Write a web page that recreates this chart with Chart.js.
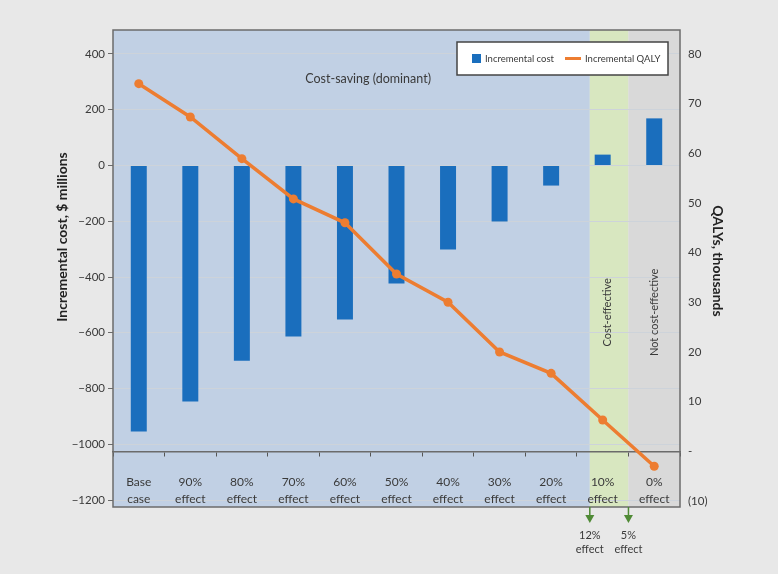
<!DOCTYPE html>
<html>
<head>
<meta charset="utf-8">
<script src="https://cdn.jsdelivr.net/npm/chart.js@4.4.0/dist/chart.umd.min.js"></script>
<style>
  html, body { margin: 0; padding: 0; background: #e8e8e8; }
  #wrap { width: 778px; height: 574px; }
</style>
</head>
<body>
<div id="wrap"><canvas id="myChart" width="778" height="574"></canvas></div>
<script>
var FONT = "Lato, 'Noto Sans', sans-serif";

// scenarios along the x axis
var categories = [
    ["Base", "case"], ["90%", "effect"], ["80%", "effect"], ["70%", "effect"],
    ["60%", "effect"], ["50%", "effect"], ["40%", "effect"], ["30%", "effect"],
    ["20%", "effect"], ["10%", "effect"], ["0%", "effect"]
];

// $ millions
var incrementalCost = [-954, -847, -700, -613, -552, -423, -301, -201, -72, 39, 169];
// QALYs, thousands
var incrementalQaly = [74.0, 67.3, 58.9, 50.8, 46.0, 35.7, 30.0, 20.0, 15.7, 6.3, -3.0];

var costTicks = [-1200, -1000, -800, -600, -400, -200, 0, 200, 400];
var qalyTicks = [-10, 0, 10, 20, 30, 40, 50, 60, 70, 80];

// shaded zones, in category index units
var zones = [
    { from: -0.5, to: 8.75, color: "#c1d0e4" },
    { from: 8.75, to: 9.5, color: "#d8e7c0" },
    { from: 9.5, to: 10.5, color: "#d9d9d9" }
];
// threshold arrows under the chart
var thresholds = [
    { at: 8.75, text: ["12%", "effect"] },
    { at: 9.5, text: ["5%", "effect"] }
];

var TEXT = "#3a3a3a";

var decorations = {
    id: "decorations",
    beforeDraw: function (chart) {
        var ctx = chart.ctx, a = chart.chartArea, xs = chart.scales.x;
        ctx.save();
        zones.forEach(function (z) {
            var x0 = Math.max(a.left, xs.getPixelForValue(z.from));
            var x1 = Math.min(a.right, xs.getPixelForValue(z.to));
            ctx.fillStyle = z.color;
            ctx.fillRect(x0, a.top, x1 - x0, a.bottom - a.top);
        });
        ctx.restore();
    },
    afterDraw: function (chart) {
        var ctx = chart.ctx, a = chart.chartArea, xs = chart.scales.x, yc = chart.scales.yCost;
        ctx.save();

        // plot frame
        ctx.strokeStyle = "#6b6b6b";
        ctx.lineWidth = 1.5;
        ctx.strokeRect(a.left, a.top, a.right - a.left, a.bottom - a.top);

        // zone labels
        ctx.fillStyle = TEXT;
        ctx.textAlign = "center";
        ctx.textBaseline = "middle";
        ctx.font = "12.5px " + FONT;
        ctx.fillText("Cost-saving (dominant)", xs.getPixelForValue(4.45), yc.getPixelForValue(310));
        ctx.font = "11px " + FONT;
        [[9.1, "Cost-effective"], [10.0, "Not cost-effective"]].forEach(function (t) {
            ctx.save();
            ctx.translate(xs.getPixelForValue(t[0]), yc.getPixelForValue(-527));
            ctx.rotate(-Math.PI / 2);
            ctx.fillText(t[1], 0, 0);
            ctx.restore();
        });

        // axis titles
        ctx.fillStyle = "#222";
        ctx.font = "bold 14px " + FONT;
        ctx.save();
        ctx.translate(62, 237);
        ctx.rotate(-Math.PI / 2);
        ctx.fillText("Incremental cost, $ millions", 0, 0);
        ctx.restore();
        ctx.save();
        ctx.translate(718, 261);
        ctx.rotate(Math.PI / 2);
        ctx.fillText("QALYs, thousands", 0, 0);
        ctx.restore();

        // arrows
        thresholds.forEach(function (t) {
            var px = xs.getPixelForValue(t.at);
            ctx.strokeStyle = "#4f8a35";
            ctx.fillStyle = "#4f8a35";
            ctx.lineWidth = 1.5;
            ctx.beginPath();
            ctx.moveTo(px, a.bottom);
            ctx.lineTo(px, a.bottom + 9);
            ctx.stroke();
            ctx.beginPath();
            ctx.moveTo(px - 4.5, a.bottom + 8);
            ctx.lineTo(px + 4.5, a.bottom + 8);
            ctx.lineTo(px, a.bottom + 16);
            ctx.closePath();
            ctx.fill();
            ctx.fillStyle = TEXT;
            ctx.font = "11px " + FONT;
            ctx.fillText(t.text[0], px, a.bottom + 28);
            ctx.fillText(t.text[1], px, a.bottom + 42);
        });

        // legend
        var lx = a.right - 223, ly = a.top + 12, lw = 211, lh = 33;
        ctx.fillStyle = "#fff";
        ctx.fillRect(lx, ly, lw, lh);
        ctx.strokeStyle = "#444";
        ctx.lineWidth = 1.5;
        ctx.strokeRect(lx, ly, lw, lh);
        var ds = chart.data.datasets;
        ctx.textAlign = "left";
        ctx.font = "9.5px " + FONT;
        ctx.fillStyle = ds[0].backgroundColor;
        ctx.fillRect(lx + 15, ly + 12, 9, 9);
        ctx.fillStyle = TEXT;
        ctx.fillText(ds[0].label, lx + 28, ly + 16.5);
        ctx.strokeStyle = ds[1].borderColor;
        ctx.lineWidth = 3;
        ctx.beginPath();
        ctx.moveTo(lx + 108, ly + 16.5);
        ctx.lineTo(lx + 124, ly + 16.5);
        ctx.stroke();
        ctx.fillText(ds[1].label, lx + 128, ly + 16.5);

        ctx.restore();
    }
};

var ctx = document.getElementById("myChart");
var myChart = new Chart(ctx, {
    type: "bar",
    data: {
        labels: categories,
        datasets: [{
            label: "Incremental cost",
            data: incrementalCost,
            yAxisID: "yCost",
            backgroundColor: "#1a6ebd",
            barPercentage: 0.31,
            categoryPercentage: 1.0,
            order: 1
        }, {
            type: "line",
            label: "Incremental QALY",
            data: incrementalQaly,
            yAxisID: "yQaly",
            borderColor: "#ed7d31",
            backgroundColor: "#ed7d31",
            borderWidth: 3.5,
            pointRadius: 4.5,
            pointBorderWidth: 0,
            tension: 0,
            order: 0
        }]
    },
    options: {
        responsive: false,
        animation: false,
        layout: { padding: { left: 0, right: 0, top: 30, bottom: 67 } },
        plugins: { legend: { display: false }, tooltip: { enabled: false } },
        scales: {
            x: {
                position: { yQaly: 0 },
                offset: true,
                grid: { offset: true, drawOnChartArea: false, tickLength: 4, tickColor: "#555" },
                border: { display: true, color: "#6b6b6b", width: 1.5 },
                ticks: {
                    color: TEXT, font: { family: FONT, size: 12, lineHeight: 1.35 },
                    padding: 19, maxRotation: 0, autoSkip: false
                }
            },
            yCost: {
                position: "left",
                min: -1225,
                max: 486,
                afterBuildTicks: function (s) { s.ticks = costTicks.map(function (v) { return { value: v }; }); },
                afterFit: function (s) { s.width = 113; },
                grid: { color: "#cdd3da", tickColor: "#6b6b6b", tickLength: 5 },
                border: { display: false },
                ticks: {
                    color: TEXT, font: { family: FONT, size: 11.5 }, padding: 3,
                    callback: function (v) { return v < 0 ? "\u2212" + Math.abs(v) : v; }
                }
            },
            yQaly: {
                position: "right",
                min: -11.2,
                max: 84.8,
                afterBuildTicks: function (s) { s.ticks = qalyTicks.map(function (v) { return { value: v }; }); },
                afterFit: function (s) { s.width = 98; },
                grid: { display: false, drawTicks: false },
                border: { display: false },
                ticks: {
                    color: TEXT, font: { family: FONT, size: 11.5 }, padding: 8,
                    callback: function (v) { return v === 0 ? "-" : v < 0 ? "(" + (-v) + ")" : v; }
                }
            }
        }
    },
    plugins: [decorations]
});
</script>
</body>
</html>
